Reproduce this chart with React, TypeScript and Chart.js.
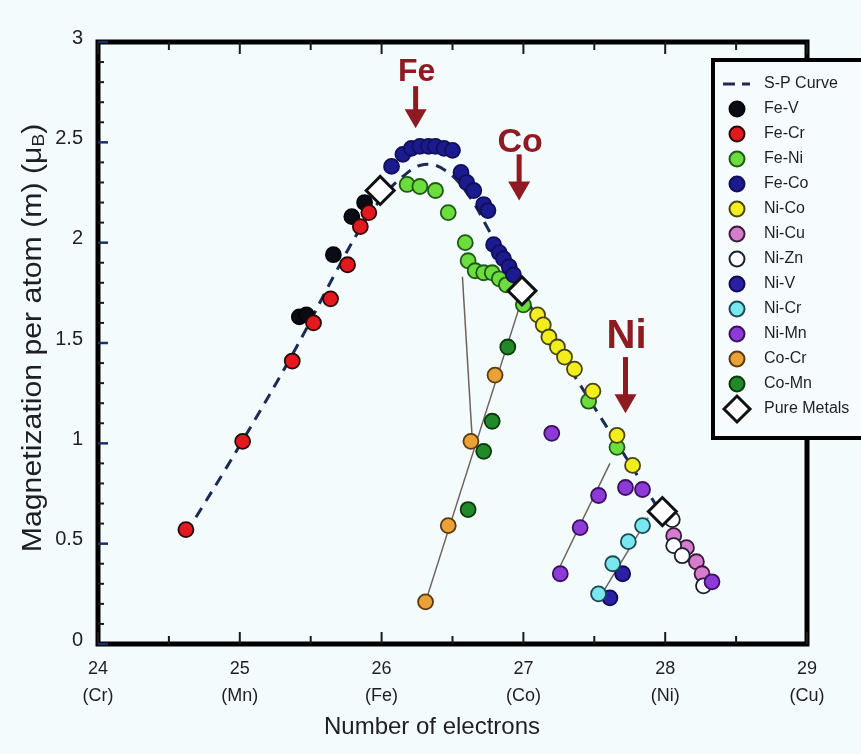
import React, { useEffect, useRef } from "react";
import { Chart, registerables } from "chart.js";

Chart.register(...registerables);

// ---------- axis definitions ----------
const X_MIN = 24;
const X_MAX = 29;
const Y_MIN = 0;
const Y_MAX = 3;
const xTickValues = [24, 25, 26, 27, 28, 29];
const xTickElements = ["Cr", "Mn", "Fe", "Co", "Ni", "Cu"];
const yTickValues = [0, 0.5, 1, 1.5, 2, 2.5, 3];
const yTickLabels = ["0", "0.5", "1", "1.5", "2", "2.5", "3"];

// ---------- data (electrons, μB) ----------
const spCurve: [number, number][] = [
  [24.62, 0.55], [25.0, 0.99], [25.4, 1.48], [25.66, 1.83], [25.85, 2.07],
  [26.0, 2.22], [26.15, 2.33], [26.3, 2.39], [26.45, 2.36], [26.6, 2.25],
  [26.75, 2.07], [27.0, 1.74], [27.5, 1.18], [28.0, 0.62],
];
const feV: [number, number][] = [
  [25.42, 1.63], [25.47, 1.64], [25.66, 1.94], [25.79, 2.13], [25.88, 2.2],
];
const feCr: [number, number][] = [
  [24.62, 0.57], [25.02, 1.01], [25.37, 1.41], [25.52, 1.6], [25.64, 1.72],
  [25.76, 1.89], [25.85, 2.08], [25.91, 2.15],
];
const feNi: [number, number][] = [
  [26.18, 2.29], [26.27, 2.28], [26.38, 2.26], [26.47, 2.15], [26.59, 2.0],
  [26.61, 1.91], [26.66, 1.86], [26.72, 1.85], [26.78, 1.85], [26.83, 1.82],
  [26.88, 1.79], [27.0, 1.69], [27.46, 1.21], [27.66, 0.98],
];
const feCo: [number, number][] = [
  [26.07, 2.38], [26.15, 2.44], [26.21, 2.47], [26.27, 2.48], [26.33, 2.48],
  [26.38, 2.48], [26.44, 2.47], [26.5, 2.46], [26.56, 2.35], [26.6, 2.3],
  [26.65, 2.26], [26.72, 2.19], [26.75, 2.16], [26.79, 1.99], [26.83, 1.95],
  [26.86, 1.92], [26.9, 1.88], [26.93, 1.84],
];
const niCo: [number, number][] = [
  [27.1, 1.64], [27.14, 1.59], [27.18, 1.53], [27.24, 1.48], [27.29, 1.43],
  [27.36, 1.37], [27.49, 1.26], [27.66, 1.04], [27.77, 0.89],
];
const niCu: [number, number][] = [
  [28.06, 0.54], [28.15, 0.48], [28.22, 0.41], [28.26, 0.35],
];
const niZn: [number, number][] = [
  [28.05, 0.62], [28.06, 0.49], [28.12, 0.44], [28.27, 0.29],
];
const niV: [number, number][] = [
  [27.7, 0.35], [27.61, 0.23],
];
const niCr: [number, number][] = [
  [27.84, 0.59], [27.74, 0.51], [27.63, 0.4], [27.53, 0.25],
];
const niMn: [number, number][] = [
  [27.2, 1.05], [27.53, 0.74], [27.4, 0.58], [27.26, 0.35], [27.72, 0.78],
  [27.84, 0.77], [28.33, 0.31],
];
const coCr: [number, number][] = [
  [26.8, 1.34], [26.63, 1.01], [26.47, 0.59], [26.31, 0.21],
];
const coMn: [number, number][] = [
  [26.89, 1.48], [26.78, 1.11], [26.72, 0.96], [26.61, 0.67],
];
const pureMetals: [number, number][] = [
  [25.99, 2.26], [26.99, 1.76], [27.98, 0.66],
];
// thin connecting lines
const tieLineA: [number, number][] = [[26.57, 1.83], [26.64, 1.01]];
const tieLineB: [number, number][] = [[26.99, 1.72], [26.31, 0.21]];
const tieLineMn: [number, number][] = [[27.24, 0.36], [27.61, 0.9]];
const tieLineCr: [number, number][] = [[27.52, 0.21], [27.88, 0.63]];

// element markers (label, x, label centre y, arrow tail y, arrow tip y, font size)
const elementMarkers = [
  { label: "Fe", x: 26.24, labelY: 2.85, tailY: 2.78, tipY: 2.57, size: 32 },
  { label: "Co", x: 26.97, labelY: 2.5, tailY: 2.44, tipY: 2.21, size: 34 },
  { label: "Ni", x: 27.72, labelY: 1.53, tailY: 1.43, tipY: 1.15, size: 40 },
];

const FONT = '"Liberation Sans", Arial, Helvetica, sans-serif';
const BG = "#f3fbfd";
const TEXT = "#1e1e24";
const ARROW = "#8e1a22";
const LINE_GREY = "#6d635b";

const toXY = (arr: [number, number][]) => arr.map(([x, y]) => ({ x, y }));

type SeriesDef = {
  label: string;
  data: [number, number][];
  bg: string;
  border: string;
  radius?: number;
  style?: string;
  bw?: number;
};

const seriesDefs: SeriesDef[] = [
  { label: "Fe-V", data: feV, bg: "#0b0b16", border: "#050508" },
  { label: "Fe-Cr", data: feCr, bg: "#e3191f", border: "#2a0808" },
  { label: "Fe-Ni", data: feNi, bg: "#6ddc3e", border: "#1d5a14" },
  { label: "Fe-Co", data: feCo, bg: "#1b1b8f", border: "#10105a" },
  { label: "Ni-Co", data: niCo, bg: "#f2ee1e", border: "#4a4410" },
  { label: "Ni-Cu", data: niCu, bg: "#d77ccc", border: "#3a1a3a" },
  { label: "Ni-Zn", data: niZn, bg: "#ffffff", border: "#1a2030" },
  { label: "Ni-V", data: niV, bg: "#2b1fa3", border: "#120a50" },
  { label: "Ni-Cr", data: niCr, bg: "#7ae6f0", border: "#1a4a50" },
  { label: "Ni-Mn", data: niMn, bg: "#8d3ad6", border: "#3a1060" },
  { label: "Co-Cr", data: coCr, bg: "#eaa236", border: "#5a3a10" },
  { label: "Co-Mn", data: coMn, bg: "#22892a", border: "#0a3a0a" },
  { label: "Pure Metals", data: pureMetals, bg: "#ffffff", border: "#111111", radius: 14, style: "rectRot", bw: 3 },
];

const decorPlugin = {
  id: "decor",
  afterDraw(chart: any) {
    const { ctx, chartArea, scales } = chart;
    const { left, right, top, bottom } = chartArea;
    const xs = scales.x;
    const ys = scales.y;
    ctx.save();

    // frame
    ctx.strokeStyle = "#000";
    ctx.lineWidth = 5;
    ctx.strokeRect(left, top, right - left, bottom - top);

    // inward tick marks
    ctx.lineWidth = 2;
    ctx.strokeStyle = "#1a1a1a";
    for (let v = X_MIN; v <= X_MAX + 1e-6; v += 0.5) {
      const px = xs.getPixelForValue(v);
      const major = Math.abs(v - Math.round(v)) < 1e-6;
      const len = major ? 12 : 8;
      ctx.beginPath();
      ctx.moveTo(px, bottom);
      ctx.lineTo(px, bottom - len);
      ctx.moveTo(px, top);
      ctx.lineTo(px, top + len);
      ctx.stroke();
    }
    for (let i = 0; i <= 30; i++) {
      const v = i / 10;
      const py = ys.getPixelForValue(v);
      const major = i % 5 === 0;
      ctx.strokeStyle = major ? "#1c2e6a" : "#1a1a1a";
      ctx.lineWidth = major ? 2.5 : 2;
      const len = major ? 10 : 6;
      ctx.beginPath();
      ctx.moveTo(left, py);
      ctx.lineTo(left + len, py);
      ctx.stroke();
    }

    // element arrows
    for (const m of elementMarkers) {
      const px = xs.getPixelForValue(m.x);
      const ly = ys.getPixelForValue(m.labelY);
      const ty = ys.getPixelForValue(m.tailY);
      const tip = ys.getPixelForValue(m.tipY);
      ctx.fillStyle = ARROW;
      ctx.strokeStyle = ARROW;
      ctx.font = `bold ${m.size}px ${FONT}`;
      ctx.textAlign = "center";
      ctx.textBaseline = "middle";
      ctx.fillText(m.label, px + 1, ly);
      ctx.lineWidth = 5;
      ctx.beginPath();
      ctx.moveTo(px, ty);
      ctx.lineTo(px, tip - 14);
      ctx.stroke();
      ctx.beginPath();
      ctx.moveTo(px - 11, tip - 19);
      ctx.lineTo(px + 11, tip - 19);
      ctx.lineTo(px, tip);
      ctx.closePath();
      ctx.fill();
    }

    // axis titles
    ctx.fillStyle = TEXT;
    ctx.textBaseline = "middle";
    ctx.textAlign = "center";
    ctx.font = `24px ${FONT}`;
    ctx.fillText("Number of electrons", 432, 727);

    ctx.save();
    ctx.translate(34, 338);
    ctx.rotate(-Math.PI / 2);
    ctx.scale(1.12, 1);
    const mainTxt = "Magnetization per atom (m) (\u03bc";
    ctx.font = `27px ${FONT}`;
    const w1 = ctx.measureText(mainTxt).width;
    ctx.font = `17px ${FONT}`;
    const w2 = ctx.measureText("B").width;
    ctx.font = `27px ${FONT}`;
    const w3 = ctx.measureText(")").width;
    const sx = -(w1 + w2 + w3) / 2;
    ctx.textAlign = "left";
    ctx.fillText(mainTxt, sx, 0);
    ctx.font = `17px ${FONT}`;
    ctx.fillText("B", sx + w1, 5);
    ctx.font = `27px ${FONT}`;
    ctx.fillText(")", sx + w1 + w2, 0);
    ctx.restore();

    // legend box
    const lx = 713;
    const lt = 60;
    const lb = 438;
    ctx.fillStyle = "#f6fcfd";
    ctx.fillRect(lx, lt, 200, lb - lt);
    ctx.strokeStyle = "#000";
    ctx.lineWidth = 4;
    ctx.strokeRect(lx, lt, 200, lb - lt);

    const step = 25;
    let yy = lt + 24;
    const mx = 737;
    const tx = 764;
    ctx.font = `16px ${FONT}`;
    ctx.textAlign = "left";
    ctx.textBaseline = "middle";
    // S-P curve entry
    ctx.strokeStyle = "#1c2a55";
    ctx.lineWidth = 3;
    ctx.beginPath();
    ctx.moveTo(723, yy);
    ctx.lineTo(735, yy);
    ctx.moveTo(742, yy);
    ctx.lineTo(750, yy);
    ctx.stroke();
    ctx.fillStyle = TEXT;
    ctx.fillText("S-P Curve", tx, yy);
    for (const s of seriesDefs) {
      yy += step;
      ctx.fillStyle = s.bg;
      ctx.strokeStyle = s.border;
      ctx.lineWidth = s.bw ?? 2;
      ctx.beginPath();
      if (s.style === "rectRot") {
        const r = 13;
        ctx.moveTo(mx - r, yy);
        ctx.lineTo(mx, yy - r);
        ctx.lineTo(mx + r, yy);
        ctx.lineTo(mx, yy + r);
        ctx.closePath();
      } else {
        ctx.arc(mx, yy, 7.5, 0, Math.PI * 2);
      }
      ctx.fill();
      ctx.stroke();
      ctx.fillStyle = TEXT;
      ctx.fillText(s.label, tx, yy);
    }
    ctx.restore();
  },
};

export default function App() {
  const canvasRef = useRef<HTMLCanvasElement | null>(null);

  useEffect(() => {
    const canvas = canvasRef.current;
    if (!canvas) return;

    const pointSets: any[] = seriesDefs.map((s, i) => ({
      type: "scatter",
      label: s.label,
      data: toXY(s.data),
      backgroundColor: s.bg,
      borderColor: s.border,
      borderWidth: s.bw ?? 1.8,
      pointRadius: s.radius ?? 7.5,
      pointHoverRadius: s.radius ?? 7.5,
      pointStyle: s.style ?? "circle",
      showLine: false,
      order: s.style === "rectRot" ? 0 : 1 + (seriesDefs.length - i) * 0.01,
    }));

    const lineSets: any[] = [
      {
        type: "scatter",
        label: "S-P Curve",
        data: toXY(spCurve),
        showLine: true,
        borderColor: "#1c2a55",
        borderWidth: 3,
        borderDash: [11, 8],
        tension: 0.4,
        pointRadius: 0,
        order: 5,
      },
      ...[tieLineA, tieLineB, tieLineMn, tieLineCr].map((t, i) => ({
        type: "scatter",
        label: "tie" + i,
        data: toXY(t),
        showLine: true,
        borderColor: LINE_GREY,
        borderWidth: 1.5,
        pointRadius: 0,
        order: 4,
      })),
    ];

    const chart = new Chart(canvas, {
      type: "scatter",
      data: { datasets: [...pointSets, ...lineSets] },
      options: {
        animation: false,
        responsive: false,
        maintainAspectRatio: false,
        layout: { padding: { top: 42, right: 54, left: 0, bottom: 0 } },
        plugins: { legend: { display: false }, tooltip: { enabled: false } },
        scales: {
          x: {
            type: "linear",
            min: X_MIN,
            max: X_MAX,
            afterBuildTicks: (s: any) => {
              s.ticks = xTickValues.map((v) => ({ value: v }));
            },
            afterFit: (s: any) => {
              s.height = 110;
            },
            grid: { display: false },
            border: { display: false },
            ticks: {
              autoSkip: false,
              maxRotation: 0,
              padding: 4,
              color: TEXT,
              font: { family: FONT, size: 18, lineHeight: 1.5 },
              callback: (v: any) => {
                const i = xTickValues.indexOf(Number(v));
                return [String(v), `(${xTickElements[i]})`];
              },
            },
          },
          y: {
            type: "linear",
            min: Y_MIN,
            max: Y_MAX,
            afterBuildTicks: (s: any) => {
              s.ticks = yTickValues.map((v) => ({ value: v }));
            },
            afterFit: (s: any) => {
              s.width = 98;
            },
            grid: { display: false },
            border: { display: false },
            ticks: {
              autoSkip: false,
              padding: 7,
              labelOffset: -4,
              color: TEXT,
              font: { family: FONT, size: 20 },
              callback: (v: any) => {
                const i = yTickValues.indexOf(Number(v));
                return yTickLabels[i];
              },
            },
          },
        },
      } as any,
      plugins: [decorPlugin],
    });

    return () => chart.destroy();
  }, []);

  return (
    <div
      style={{
        position: "fixed",
        left: 0,
        top: 0,
        width: 861,
        height: 754,
        background: BG,
      }}
    >
      <canvas ref={canvasRef} width={861} height={754} style={{ display: "block" }} />
    </div>
  );
}
